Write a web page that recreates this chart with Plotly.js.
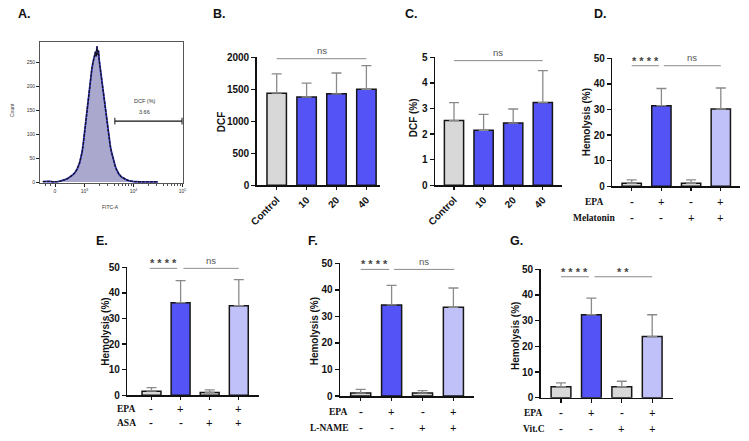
<!DOCTYPE html>
<html><head><meta charset="utf-8">
<script src="https://cdn.plot.ly/plotly-3.0.1.min.js"></script>
<style>html,body{margin:0;padding:0;background:#fff}#chart{width:749px;height:441px}</style>
</head><body><div id="chart"></div>
<script>
// ---------- Panel A: flow cytometry histogram (x in display decades) ----------
const histX = [2.15,2.20,2.25,2.30,2.35,2.40,2.45,2.50,2.55,2.60,2.65,2.70,2.75,2.80,2.85,2.90,2.925,2.95,2.975,3.00,3.025,3.05,3.075,3.10,3.125,3.15,3.175,3.20,3.225,3.24,3.255,3.27,3.285,3.30,3.325,3.35,3.375,3.40,3.425,3.45,3.475,3.50,3.525,3.55,3.575,3.60,3.625,3.65,3.675,3.70,3.75,3.80,3.85,3.90,3.95,4.00,4.10,4.20,4.30,4.40,4.50];
const histCount = [1,1.5,1,1.5,0.5,0.3,1,2,3,5,7,10,14,19,27,40,50,62,80,104,124,148,176,198,220,236,250,264,272,262,283,266,274,254,234,214,192,170,152,130,108,92,76,63,51,41,34,27,21,17,11,7,5,3,2,1,0.6,0.5,0.5,0.3,0.2];
const countTicks = [0,50,100,150,200,250];
const fitcTickLabels = ['0','10<sup>3</sup>','10<sup>4</sup>','10<sup>5</sup>'];
const gateName = 'DCF (%)';
const gateValue = '3.66';

// ---------- Panels B, C: dose response ----------
const doseCats = ['Control','10','20','40'];
const dcfMean = [1440,1380,1430,1500];
const dcfErr  = [300,215,325,370];
const dcfPctMean = [2.53,2.15,2.43,3.23];
const dcfPctErr  = [0.70,0.62,0.55,1.25];

// ---------- Panels D-G: hemolysis ----------
const epaSigns = ['-','+','-','+'];
const cotreatSigns = ['-','-','+','+'];
const melMean = [1.2,31.5,1.2,30.2];
const melErr  = [1.3,6.7,1.3,8.2];
const asaMean = [1.6,36.2,1.1,35.0];
const asaErr  = [1.4,8.6,1.0,10.2];
const lnameMean = [1.1,34.3,1.1,33.4];
const lnameErr  = [1.4,7.4,0.9,7.3];
const vitcMean = [4.3,32.3,4.3,23.8];
const vitcErr  = [1.5,6.5,2.1,8.5];
const sigDose = ['ns'];
const sigMel = ['* * * *','ns'];
const sigAsa = ['* * * *','ns'];
const sigLname = ['* * * *','ns'];
const sigVitc = ['* * * *','* *'];

// ---------- layout helpers ----------
const W = 749, H = 441;
const px = x => x / W;
const py = y => 1 - y / H;
const SANS = 'Liberation Sans, Arial, sans-serif';
const SERIF = 'Liberation Serif, Times New Roman, serif';
const GRAY = '#d8d8d8', BLUE = '#5353f6', LIGHT = '#c1c1f9';

const data = [];
const layout = {
  width: W, height: H, margin: {l:0, r:0, t:0, b:0},
  paper_bgcolor: '#fff', plot_bgcolor: 'rgba(0,0,0,0)',
  showlegend: false, shapes: [], annotations: []
};

// Panel A
data.push({x: histX, y: histCount, xaxis:'x', yaxis:'y', type:'scatter', mode:'lines',
  fill:'tozeroy', fillcolor:'#aaa8cc', line:{color:'#3b3bd8', width:1.8}, hoverinfo:'skip'});
data.push({x: histX, y: histCount, xaxis:'x', yaxis:'y', type:'scatter', mode:'lines',
  line:{color:'#111', width:1.3, dash:'3px,1px'}, hoverinfo:'skip'});
const minorVals = [];
[3,4].forEach(d => { for (let k=2;k<=9;k++) minorVals.push(d + Math.log10(k)); });
[2.2, 2.3].forEach(v => minorVals.push(v));
layout.xaxis = {domain:[px(40), px(183)], range:[2.092, 5.01], anchor:'y',
  tickvals:[2.398,3,4,5], ticktext: fitcTickLabels, ticks:'outside', ticklen:3, tickwidth:1,
  tickcolor:'#222', tickfont:{family:SANS, size:5, color:'#333'},
  showline:true, mirror:true, linecolor:'#555', linewidth:1, showgrid:false, zeroline:false,
  minor:{tickvals:minorVals, ticks:'outside', ticklen:1.8, tickcolor:'#222', tickwidth:0.8}};
layout.yaxis = {domain:[py(183), py(42)], range:[-2, 292], anchor:'x',
  tickvals: countTicks, ticks:'outside', ticklen:3, tickwidth:1, tickcolor:'#222',
  tickfont:{family:SANS, size:5, color:'#333'},
  showline:true, mirror:true, linecolor:'#555', linewidth:1, showgrid:false, zeroline:false};
layout.shapes.push({type:'line', xref:'x', yref:'y', x0:3.62, x1:4.99, y0:127, y1:127, line:{color:'#111', width:1.2}});
layout.shapes.push({type:'line', xref:'x', yref:'y', x0:3.62, x1:3.62, y0:120, y1:134, line:{color:'#111', width:1}});
layout.shapes.push({type:'line', xref:'x', yref:'y', x0:4.99, x1:4.99, y0:120, y1:134, line:{color:'#111', width:1}});
layout.annotations.push({xref:'x', yref:'y', x:4.23, y:169, text:gateName, showarrow:false, font:{family:SANS, size:5.5, color:'#333'}});
layout.annotations.push({xref:'x', yref:'y', x:4.23, y:146, text:gateValue, showarrow:false, font:{family:SANS, size:5.5, color:'#333'}});
layout.annotations.push({xref:'paper', yref:'paper', x:px(12), y:py(110), text:'Count', textangle:-90, showarrow:false, font:{family:SANS, size:5, color:'#333'}});
layout.annotations.push({xref:'paper', yref:'paper', x:px(110), y:py(206.5), text:'FITC-A', showarrow:false, font:{family:SANS, size:5, color:'#333'}});

// Bar panels
const panels = [
  {n:2, cats:doseCats, mean:dcfMean, err:dcfErr, colors:[GRAY,BLUE,BLUE,BLUE], x0:256.7, x1:380, c0:276.7, step:29.9,
   yb:185.3, yt:57.3, ymax:2000, dtick:500, title:'DCF', tx:221.7, ty:121.5, rotate:true,
   sig:[{t:sigDose[0], a:0, b:3, y:1978, c:1.5}], label:'B.', lx:219, ly:14},
  {n:3, cats:doseCats, mean:dcfPctMean, err:dcfPctErr, colors:[GRAY,BLUE,BLUE,BLUE], x0:435, x1:562, c0:454, step:29.6,
   yb:185.3, yt:57.3, ymax:5, dtick:1, title:'DCF (%)', tx:413.3, ty:118, rotate:true,
   sig:[{t:sigDose[0], a:0, b:3, y:4.87, c:1.5}], label:'C.', lx:411, ly:14},
  {n:4, mean:melMean, err:melErr, colors:[GRAY,BLUE,GRAY,LIGHT], x0:612.3, x1:740, c0:631.7, step:29.7,
   yb:186.3, yt:58.3, ymax:50, dtick:10, title:'Hemolysis (%)', tx:587.3, ty:122,
   sig:[{t:sigMel[0], a:0, b:0.92, y:47.1, c:0.47}, {t:sigMel[1], a:1.08, b:3, y:47.1, c:2.02}],
   rows:[{name:'EPA', signs:epaSigns, x:594, y:201.7}, {name:'Melatonin', signs:cotreatSigns, x:593.5, y:218}],
   label:'D.', lx:600, ly:14},
  {n:5, mean:asaMean, err:asaErr, colors:[GRAY,BLUE,GRAY,LIGHT], x0:127.3, x1:259.3, c0:151.5, step:29.1,
   yb:395.3, yt:267.3, ymax:50, dtick:10, title:'Hemolysis (%)', tx:105.2, ty:331.5,
   sig:[{t:sigAsa[0], a:-0.06, b:0.88, y:49.6, c:0.41}, {t:sigAsa[1], a:1.1, b:3, y:49.6, c:2.05}],
   rows:[{name:'EPA', signs:epaSigns, x:126, y:409.3}, {name:'ASA', signs:cotreatSigns, x:126, y:423.3}],
   label:'E.', lx:102, ly:241},
  {n:6, mean:lnameMean, err:lnameErr, colors:[GRAY,BLUE,GRAY,LIGHT], x0:340, x1:474, c0:360.7, step:30.9,
   yb:396, yt:263.3, ymax:50, dtick:10, title:'Hemolysis (%)', tx:314.3, ty:331,
   sig:[{t:sigLname[0], a:0, b:0.92, y:47.7, c:0.46}, {t:sigLname[1], a:1.08, b:3.03, y:47.7, c:2.05}],
   rows:[{name:'EPA', signs:epaSigns, x:337.5, y:411.7}, {name:'L-NAME', signs:cotreatSigns, x:329.7, y:428.3}],
   label:'F.', lx:312.5, ly:241},
  {n:7, mean:vitcMean, err:vitcErr, colors:[GRAY,BLUE,GRAY,LIGHT], x0:540.7, x1:673.3, c0:561, step:30.4,
   yb:397.7, yt:269.3, ymax:50, dtick:10, title:'Hemolysis (%)', tx:515, ty:336,
   sig:[{t:sigVitc[0], a:0, b:0.92, y:47.1, c:0.46}, {t:sigVitc[1], a:1.1, b:3, y:47.1, c:2.05}],
   rows:[{name:'EPA', signs:epaSigns, x:532.5, y:413}, {name:'Vit.C', signs:cotreatSigns, x:534.2, y:428.5}],
   label:'G.', lx:516, ly:241}
];

panels.forEach(p => {
  const xa = 'x' + p.n, ya = 'y' + p.n;
  const cats = p.cats ? p.cats : p.rows[0].signs.map((s,i) => s + '/' + p.rows[1].signs[i]);
  data.push({type:'bar', x:cats, y:p.mean, xaxis:xa, yaxis:ya, width:0.65,
    marker:{color:p.colors, line:{color:'#161616', width:1.5}},
    error_y:{type:'data', symmetric:false, array:p.err, arrayminus:p.mean.map(()=>0),
      color:'#8a8a8a', thickness:1.3, width:5},
    hoverinfo:'skip'});
  const xRange = [-(p.c0 - p.x0)/p.step, (p.x1 - p.c0)/p.step];
  const ax = {domain:[px(p.x0), px(p.x1)], range:xRange, anchor:ya, type:'category',
    showline:true, linecolor:'#111', linewidth:1.5, ticks:'outside', ticklen:3.5, tickwidth:1.3, tickcolor:'#111',
    showgrid:false, zeroline:false, showticklabels: !!p.rotate,
    tickfont:{family:SANS, size:10, weight:'bold', color:'#111'}};
  if (p.rotate) ax.tickangle = -45;
  layout['xaxis' + p.n] = ax;
  const yvals = [];
  for (let v = 0; v <= p.ymax + 1e-9; v += p.dtick) yvals.push(+v.toFixed(3));
  layout['yaxis' + p.n] = {domain:[py(p.yb), py(p.yt)], range:[0, p.ymax], anchor:xa,
    tickvals:yvals, showline:true, linecolor:'#111', linewidth:1.5, ticks:'outside', ticklen:4, tickwidth:1.5,
    tickcolor:'#111', showgrid:false, zeroline:false,
    tickfont:{family:SANS, size:10, weight:'bold', color:'#111'}};
  layout.annotations.push({xref:'paper', yref:'paper', x:px(p.tx), y:py(p.ty), text:'<b>' + p.title + '</b>',
    textangle:-90, showarrow:false, font:{family:SANS, size:10, color:'#111'}});
  layout.annotations.push({xref:'paper', yref:'paper', x:px(p.lx), y:py(p.ly), text:'<b>' + p.label + '</b>',
    showarrow:false, font:{family:SANS, size:12.5, color:'#111'}});
  p.sig.forEach(s => {
    layout.shapes.push({type:'line', xref:xa, yref:ya, x0:s.a, x1:s.b, y0:s.y, y1:s.y, line:{color:'#8a8a8a', width:1}});
    const star = s.t.indexOf('*') >= 0;
    layout.annotations.push({xref:xa, yref:ya, x:s.c, y:s.y, yshift: star ? 5 : 8, text: star ? '<b>' + s.t + '</b>' : s.t,
      showarrow:false, font:{family:SANS, size: star ? 11 : 9.5, color: star ? '#444' : '#555'}});
  });
  if (p.rows) {
    p.rows.forEach(r => {
      layout.annotations.push({xref:'paper', yref:'paper', x:px(r.x), y:py(r.y), text:'<b>' + r.name + '</b>',
        showarrow:false, font:{family:SERIF, size:9.5, color:'#111'}});
      r.signs.forEach((s, i) => {
        layout.annotations.push({xref:xa, yref:'paper', x:i, y:py(r.y), text:'<b>' + s + '</b>',
          showarrow:false, font:{family:SERIF, size:11.5, color:'#111'}});
      });
    });
  }
});
layout.annotations.push({xref:'paper', yref:'paper', x:px(24), y:py(14), text:'<b>A.</b>', showarrow:false, font:{family:SANS, size:12.5, color:'#111'}});
layout.annotations.forEach(a => { a.xanchor = 'center'; a.yanchor = 'middle'; });

Plotly.newPlot('chart', data, layout, {staticPlot:true, displayModeBar:false});
</script></body></html>
